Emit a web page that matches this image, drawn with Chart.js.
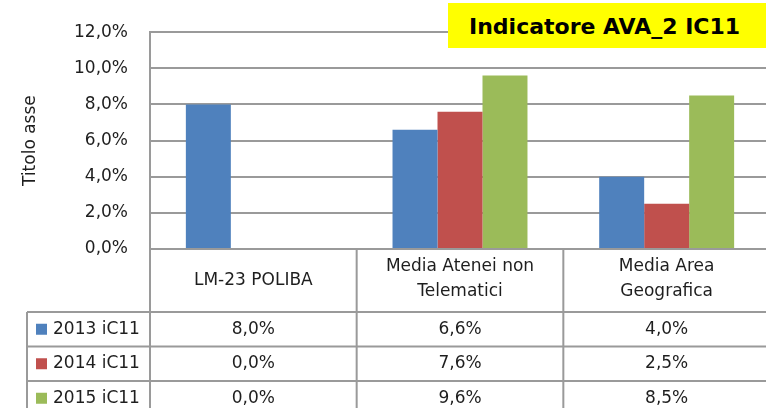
<!DOCTYPE html>
<html>
<head>
<meta charset="utf-8">
<script src="https://cdn.jsdelivr.net/npm/chart.js@4"></script>
<style>
  body { margin: 0; overflow: hidden; background: #fff; }
  #wrap { position: relative; width: 772px; height: 408px; }
  #badge {
    position: absolute; left: 448px; top: 3px; width: 330px; height: 45px;
    background: #ffff00; color: #000; box-sizing: border-box; padding-left: 21px;
    font: bold 22px "DejaVu Sans"; line-height: 47px; white-space: nowrap;
  }
</style>
</head>
<body>
<div id="wrap">
  <canvas id="chart" width="772" height="408"></canvas>
  <div id="badge">Indicatore AVA_2 IC11</div>
</div>
<script>
// data
const categories = [["LM-23 POLIBA"], ["Media Atenei non", "Telematici"], ["Media Area", "Geografica"]];
const seriesNames = ["2013 iC11", "2014 iC11", "2015 iC11"];
const values2013 = [8.0, 6.6, 4.0];
const values2014 = [0.0, 7.6, 2.5];
const values2015 = [0.0, 9.6, 8.5];
const yTicks = [0, 2, 4, 6, 8, 10, 12];

const colors = ["#4f81bd", "#c0504d", "#9bbb59"];
const gridColor = "#9a9a9a";
const textColor = "#1e1e1e";
const fontFamily = "DejaVu Sans";

function formatPct(v) {
  return v.toFixed(1).replace(".", ",") + "%";
}

// data table under the plot (Excel style)
const dataTable = {
  id: "dataTable",
  afterDraw(chart) {
    const { ctx, chartArea } = chart;
    const x = chart.scales.x;
    const colW = (x.right - x.left) / categories.length;
    const headTop = chartArea.bottom;
    const headBottom = headTop + 63;
    const rowH = 34.5;
    const tableLeft = 27;
    const bottom = chart.height;

    ctx.save();
    ctx.strokeStyle = gridColor;
    ctx.lineWidth = 2;
    ctx.beginPath();
    for (let i = 0; i <= categories.length; i++) {
      const lx = x.left + i * colW;
      ctx.moveTo(lx, headTop);
      ctx.lineTo(lx, bottom);
    }
    ctx.moveTo(tableLeft, headBottom);
    ctx.lineTo(tableLeft, bottom);
    for (let r = 0; r < seriesNames.length; r++) {
      const ly = headBottom + r * rowH;
      ctx.moveTo(tableLeft, ly);
      ctx.lineTo(x.right, ly);
    }
    ctx.stroke();

    ctx.fillStyle = textColor;
    ctx.font = "17px '" + fontFamily + "'";
    ctx.textBaseline = "middle";
    ctx.textAlign = "center";

    // header: category names
    const headMid = (headTop + headBottom) / 2;
    categories.forEach((lines, i) => {
      const cx = x.getPixelForValue(i);
      if (lines.length === 1) {
        ctx.fillText(lines[0], cx, headMid);
      } else {
        ctx.fillText(lines[0], cx, headMid - 14);
        ctx.fillText(lines[1], cx, headMid + 11);
      }
    });

    // rows: legend key + values
    chart.data.datasets.forEach((ds, r) => {
      const cy = headBottom + r * rowH + rowH / 2;
      ctx.fillStyle = ds.backgroundColor;
      ctx.fillRect(36, cy - 5.5, 11, 11);
      ctx.fillStyle = textColor;
      ctx.textAlign = "left";
      ctx.fillText(ds.label, 53, cy);
      ctx.textAlign = "center";
      ds.data.forEach((v, i) => {
        ctx.fillText(formatPct(v), x.getPixelForValue(i), cy);
      });
    });
    ctx.restore();
  },
};

const ctx = document.getElementById("chart").getContext("2d");
new Chart(ctx, {
  type: "bar",
  data: {
    labels: categories,
    datasets: [
      { label: seriesNames[0], data: values2013, backgroundColor: colors[0] },
      { label: seriesNames[1], data: values2014, backgroundColor: colors[1] },
      { label: seriesNames[2], data: values2015, backgroundColor: colors[2] },
    ],
  },
  options: {
    responsive: false,
    animation: false,
    devicePixelRatio: 1,
    layout: { padding: { top: 32, right: 2, left: 0, bottom: 0 } },
    datasets: {
      bar: { categoryPercentage: 0.653, barPercentage: 1, borderWidth: 0 },
    },
    plugins: {
      legend: { display: false },
      tooltip: { enabled: false },
    },
    scales: {
      x: {
        ticks: { display: false },
        grid: { display: false },
        border: { color: gridColor, width: 2 },
        afterFit: (axis) => {
          axis.height = 159;
        },
      },
      y: {
        min: 0,
        max: 12,
        afterBuildTicks: (axis) => {
          axis.ticks = yTicks.map((v) => ({ value: v }));
        },
        ticks: {
          padding: 22,
          color: textColor,
          font: { family: fontFamily, size: 17 },
          callback: (v) => formatPct(v),
        },
        grid: { color: gridColor, lineWidth: 2, drawTicks: false },
        border: { color: gridColor, width: 2 },
        title: {
          display: true,
          text: "Titolo asse",
          color: textColor,
          font: { family: fontFamily, size: 17 },
          padding: { top: 20, bottom: 0 },
        },
        afterFit: (axis) => {
          axis.width = 150;
        },
      },
    },
  },
  plugins: [dataTable],
});
</script>
</body>
</html>
